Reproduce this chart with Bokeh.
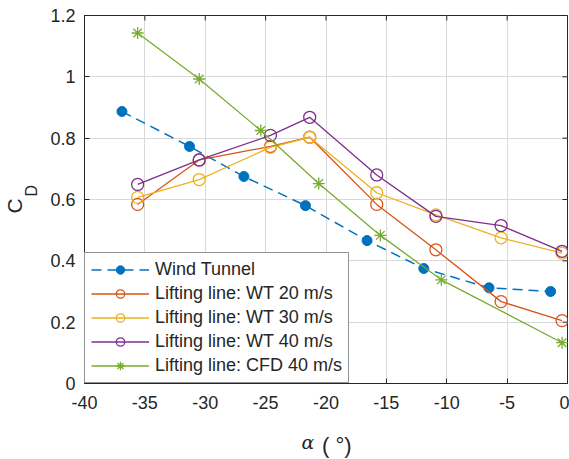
import math
from bokeh.plotting import figure
from bokeh.models import Range1d, FixedTicker, Title, NumeralTickFormatter
from bokeh.embed import file_html
from bokeh.resources import INLINE

# ---- data ----
wt_alpha = [-36.9, -31.3, -26.8, -21.7, -16.6, -11.9, -6.5, -1.4]
wt_cd = [0.887, 0.773, 0.675, 0.580, 0.466, 0.375, 0.312, 0.300]

ll_alpha = [-35.6, -30.5, -24.6, -21.35, -15.8, -10.9, -5.5, -0.45]
ll20_cd = [0.584, 0.729, 0.773, 0.803, 0.584, 0.436, 0.267, 0.205]
ll30_cd = [0.607, 0.665, 0.770, 0.803, 0.622, 0.550, 0.475, 0.425]
ll40_cd = [0.649, 0.729, 0.809, 0.868, 0.680, 0.545, 0.515, 0.431]

cfd_alpha = [-35.6, -30.5, -25.4, -20.6, -15.5, -10.45, -0.45]
cfd_cd = [1.143, 0.993, 0.825, 0.652, 0.483, 0.338, 0.133]

x_ticks = [-40, -35, -30, -25, -20, -15, -10, -5, 0]
y_ticks = [0, 0.2, 0.4, 0.6, 0.8, 1.0, 1.2]

labels = ["Wind Tunnel", "Lifting line: WT 20 m/s", "Lifting line: WT 30 m/s",
          "Lifting line: WT 40 m/s", "Lifting line: CFD 40 m/s"]
colors = ["#0072BD", "#D95319", "#EDB120", "#7E2F8E", "#77AC30"]

FONT = "Liberation Sans"
TXT = "#262626"
NBSP = "\u00a0"

p = figure(width=569, height=459, output_backend="svg", toolbar_location=None,
           x_range=Range1d(x_ticks[0], x_ticks[-1]), y_range=Range1d(y_ticks[0], y_ticks[-1]),
           min_border_left=84, min_border_top=15, min_border_right=2, min_border_bottom=76)

p.outline_line_color = TXT
p.outline_line_width = 1

for ax, ticks in ((p.xaxis[0], x_ticks), (p.yaxis[0], y_ticks)):
    ax.ticker = FixedTicker(ticks=ticks)
    ax.major_tick_in = 5
    ax.major_tick_out = 0
    ax.minor_tick_in = 0
    ax.minor_tick_out = 0
    ax.axis_line_color = TXT
    ax.major_tick_line_color = TXT
    ax.major_label_text_font = FONT
    ax.major_label_text_font_size = "18px"
    ax.major_label_text_color = TXT
p.yaxis[0].formatter = NumeralTickFormatter(format="0.[0]")
p.xaxis[0].formatter = NumeralTickFormatter(format="0")
p.yaxis[0].major_label_standoff = 9
p.xaxis[0].major_label_standoff = 12

# x title: italic alpha (shifted left of centre by trailing no-break spaces)
p.xaxis[0].axis_label = "α" + NBSP * 6
p.xaxis[0].axis_label_text_font = "DejaVu Serif"
p.xaxis[0].axis_label_text_font_style = "italic"
p.xaxis[0].axis_label_text_font_size = "19px"
p.xaxis[0].axis_label_text_color = TXT
p.xaxis[0].axis_label_standoff = 19

p.xgrid.ticker = FixedTicker(ticks=x_ticks)
p.ygrid.ticker = FixedTicker(ticks=y_ticks)
p.xgrid.grid_line_color = "#d9d9d9"
p.ygrid.grid_line_color = "#d9d9d9"

# inward tick marks on the top and right edges of the box (outer halves are clipped)
p.scatter(x_ticks, [y_ticks[-1]] * len(x_ticks), marker="dash", size=10, angle=math.pi / 2,
          line_color=TXT, line_width=1)
p.scatter([x_ticks[-1]] * len(y_ticks), y_ticks, marker="dash", size=10,
          line_color=TXT, line_width=1)

# Wind tunnel
p.line(wt_alpha, wt_cd, color=colors[0], line_width=1.5, line_dash="10 6", legend_label=labels[0])
p.scatter(wt_alpha, wt_cd, marker="circle", size=10, color=colors[0], legend_label=labels[0])

for cd, col, lab in ((ll20_cd, colors[1], labels[1]), (ll30_cd, colors[2], labels[2]),
                     (ll40_cd, colors[3], labels[3])):
    p.line(ll_alpha, cd, color=col, line_width=1.3, legend_label=lab)
    p.scatter(ll_alpha, cd, marker="circle", size=12, line_color=col, fill_color=None,
              line_width=1.3, legend_label=lab)

p.line(cfd_alpha, cfd_cd, color=colors[4], line_width=1.3, legend_label=labels[4])
p.scatter(cfd_alpha, cfd_cd, marker="asterisk", size=12, line_color=colors[4],
          line_width=1.3, legend_label=labels[4])

lg = p.legend[0]
lg.location = "bottom_left"
lg.margin = 0
lg.border_line_color = TXT
lg.border_line_width = 1
lg.background_fill_color = "white"
lg.background_fill_alpha = 1
lg.label_text_font = FONT
lg.label_text_font_size = "18px"
lg.label_text_color = TXT
lg.glyph_width = 58
lg.glyph_height = 21
lg.label_height = 21
lg.spacing = 3
lg.padding = 6
lg.label_standoff = 6

# remaining axis-title pieces as side-panel titles
def title(side, text, size, standoff, offset, valign="bottom", font=FONT, style="normal"):
    t = Title(text=text, align="left", offset=offset, standoff=standoff,
              vertical_align=valign, text_font=font, text_font_style=style,
              text_font_size=size, text_color=TXT)
    p.add_layout(t, side)

title("left", "D", "16px", 15, 187)
title("left", "C", "21px", -25, 170)
title("below", "( °)", "22px", -46, 237.5, valign="top")

open("out.html", "w").write(file_html(p, INLINE))
